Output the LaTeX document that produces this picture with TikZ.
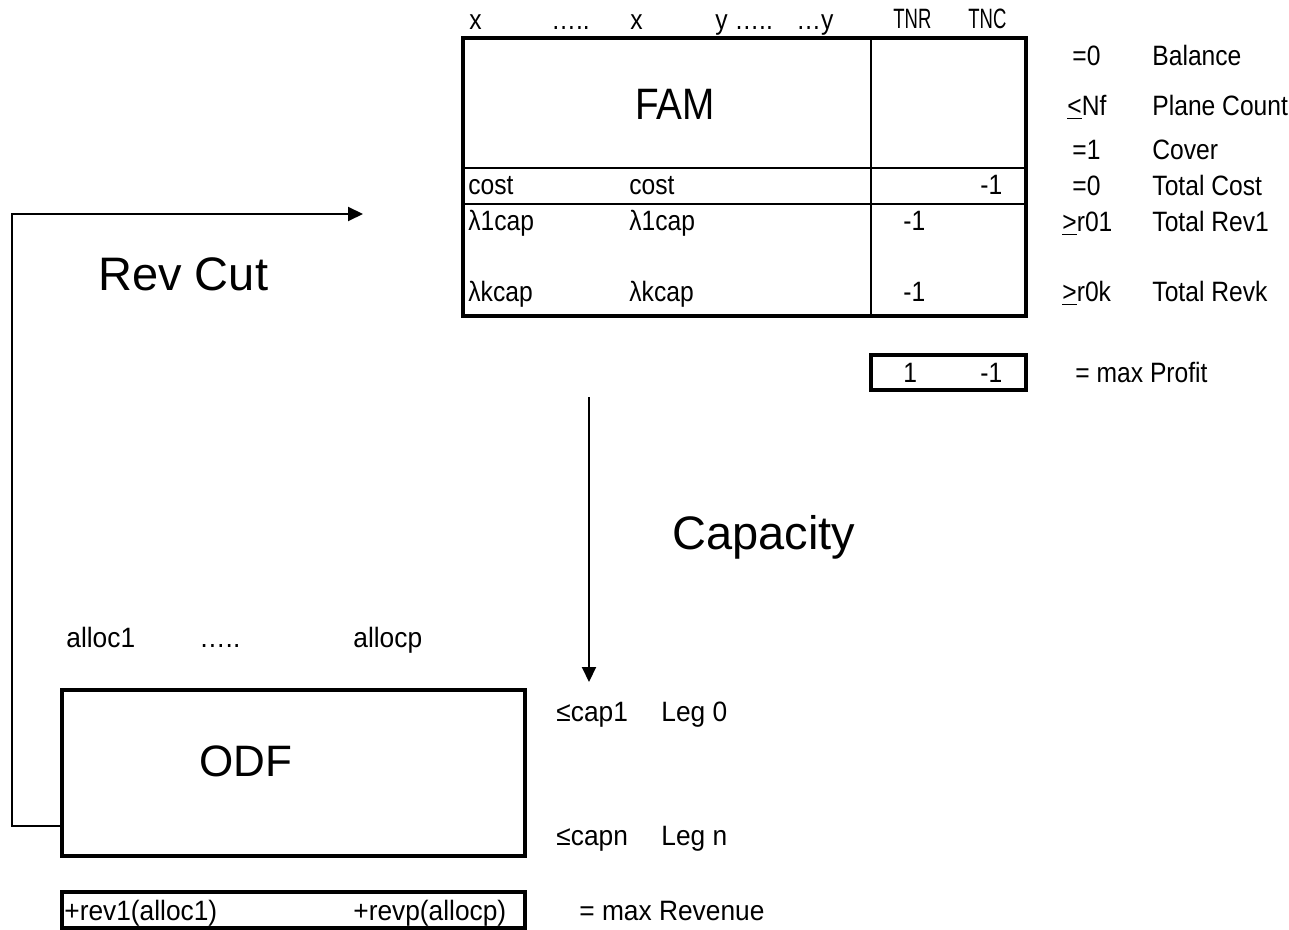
\documentclass[tikz,border=0pt]{standalone}
\usepackage{fontspec}
\setmainfont{Liberation Sans}
\newfontfamily\condsf[FakeStretch=0.88]{Liberation Sans}
\newfontfamily\widesf[FakeStretch=0.94]{Liberation Sans}
\newfontfamily\narrowsf[FakeStretch=0.66]{Liberation Sans}
\usetikzlibrary{arrows.meta}

\begin{document}
\begin{tikzpicture}[x=0.5pt,y=-0.5pt,
    lbl/.style={anchor=base west,inner sep=0pt,font=\condsf\fontsize{14}{16}\selectfont},
    lower/.style={lbl,font=\widesf\fontsize{14}{16}\selectfont},
    hdr/.style={lbl,font=\narrowsf\fontsize{14}{16}\selectfont},
    big/.style={anchor=base west,inner sep=0pt,font=\fontsize{23.5}{28}\selectfont},
    frame/.style={line width=2pt},
    rule/.style={line width=1pt},
    flow/.style={line width=1pt,-{Triangle[length=7.5pt,width=7pt]}}]
    \useasboundingbox (0,0) rectangle (1289,930);
    % FAM block
    \draw[frame] (463,38) rectangle (1026,316);
    \draw[rule] (871,38) -- (871,316);
    \draw[rule] (463,168) -- (1026,168);
    \draw[rule] (463,204) -- (1026,204);
    \node[lbl] (hx1) at (469,30) {x};
    \node[lbl] (hdots) at (551,30) {…..};
    \node[lbl] (hx2) at (630,30) {x};
    \node[lbl] (hy1) at (715,30) {y …..};
    \node[lbl] (hy2) at (796,30) {…y};
    \node[hdr] (htnr) at (893,29) {TNR};
    \node[hdr] (htnc) at (968,29) {TNC};
    \node[big,font=\condsf\fontsize{22}{26}\selectfont] (fam) at (635,120) {FAM};
    \node[lbl] (costa) at (468,195) {cost};
    \node[lbl] (costb) at (629,195) {cost};
    \node[lbl] (costtnc) at (980,195) {-1};
    \node[lbl] (lamonea) at (468,231) {λ1cap};
    \node[lbl] (lamoneb) at (629,231) {λ1cap};
    \node[lbl] (lamonetnr) at (903,231) {-1};
    \node[lbl] (lamka) at (468,302) {λkcap};
    \node[lbl] (lamkb) at (629,302) {λkcap};
    \node[lbl] (lamktnr) at (903,302) {-1};
    % constraint senses
    \foreach \rel/\xx/\con/\yy [count=\i] in {=0/1072/Balance/66,
        {\underline{<}Nf}/1067/Plane Count/116, =1/1072/Cover/160,
        =0/1072/Total Cost/196, {\underline{>}r01}/1062/Total Rev1/232,
        {\underline{>}r0k}/1062/Total Revk/302} {
      \node[lbl] (rel\i) at (\xx,\yy) {\rel};
      \node[lbl] (con\i) at (1152,\yy) {\con};
    }
    % objective
    \draw[frame] (871,355) rectangle (1026,390);
    \node[lbl] (pone) at (903,382) {1};
    \node[lbl] (pmone) at (980,382) {-1};
    \node[lbl] (profit) at (1075,382) {= max Profit};
    % ODF block
    \node[lower] (alloc1) at (66,647) {alloc1};
    \node[lower] (allocdots) at (199,647) {…..};
    \node[lower] (allocp) at (353,647) {allocp};
    \draw[frame] (62,690) rectangle (525,856);
    \node[big,font=\fontsize{22}{26}\selectfont] (odf) at (199,776) {ODF};
    \node[lower] (cap1) at (556,721) {≤cap1};
    \node[lower] (leg0) at (661,721) {Leg 0};
    \node[lower] (capn) at (556,845) {≤capn};
    \node[lower] (legn) at (661,845) {Leg n};
    \draw[frame] (62,892) rectangle (525,928);
    \node[lower] (rev1) at (64,920) {+rev1(alloc1)};
    \node[lower] (revp) at (353,920) {+revp(allocp)};
    \node[lower] (revenue) at (579,920) {= max Revenue};
    % links
    \node[big] (revcut) at (98,291) {Rev Cut};
    \node[big] (capacity) at (672,549) {Capacity};
    \coordinate (capfrom) at (589,397);
    \coordinate (capto) at (589,682);
    \draw[flow] (capfrom) -- (capto);
    \coordinate (cutfrom) at (62,826);
    \coordinate (cuttip) at (363,214);
    \draw[flow] (cutfrom) -- ++(-50,0) |- (cuttip);
\end{tikzpicture}
\end{document}
